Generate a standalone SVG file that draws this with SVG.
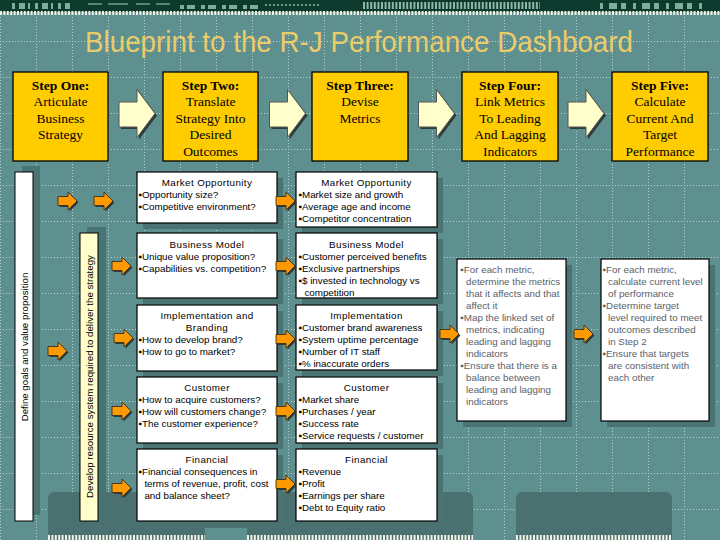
<svg xmlns="http://www.w3.org/2000/svg" xmlns:xlink="http://www.w3.org/1999/xlink" width="720" height="540" viewBox="0 0 720 540">
<defs>
<style>
.bx{fill:#ffffff;stroke:#000;stroke-width:1.2}
.sb{fill:#ffcc00;stroke:#000;stroke-width:1.3}
.sh{fill:#4a7373}
.t{font-family:'Liberation Sans',Arial,sans-serif;font-size:9.8px;fill:#000}
.tt{text-anchor:middle;letter-spacing:0.4px}
.g{fill:#59616a}
.st{font-family:'Liberation Serif','Times New Roman',serif;font-size:13.5px;text-anchor:middle;fill:#000}
.stb{font-weight:bold}
.vt{font-family:'Liberation Sans',Arial,sans-serif;font-size:9.7px;text-anchor:middle;fill:#000}
.gl{stroke:#b4d4d4;stroke-width:1;stroke-dasharray:1 2;fill:none}
</style>
<pattern id="grid" x="36" y="41" width="36" height="36" patternUnits="userSpaceOnUse">
<line class="gl" x1="0.5" y1="0" x2="0.5" y2="36"/>
<line class="gl" x1="0" y1="0.5" x2="36" y2="0.5"/>
</pattern>
<path id="ba" d="M0,12.5 H18 V0 L36,24 L18,48 V37.5 H0 Z"/>
<path id="oa" d="M0,4.5 H10 V0 L19,9 L10,18 V13.5 H0 Z"/>
</defs>

<!-- background -->
<rect x="0" y="0" width="720" height="540" fill="#5e9090"/>
<rect x="0" y="15" width="720" height="525" fill="url(#grid)"/>

<!-- top banner -->
<g id="banner">
<rect x="0" y="0" width="720" height="12" fill="#0d3a2d"/>
<line x1="12" y1="6" x2="70" y2="6" stroke="#7fae98" stroke-width="6" stroke-dasharray="3 4 6 3 2 5"/>
<line x1="88" y1="4" x2="170" y2="4" stroke="#6f9e88" stroke-width="1.5" stroke-dasharray="14 6 20 8"/>
<line x1="180" y1="7" x2="260" y2="7" stroke="#7fae98" stroke-width="4" stroke-dasharray="4 3 8 6"/>
<line x1="265" y1="5" x2="320" y2="5" stroke="#6f9e88" stroke-width="2" stroke-dasharray="2 2"/>
<line x1="363" y1="5.5" x2="540" y2="5.5" stroke="#8fb8a8" stroke-width="7" stroke-dasharray="2 1.6"/>
<line x1="600" y1="6" x2="705" y2="6" stroke="#7fae98" stroke-width="6" stroke-dasharray="3 6 8 4 5 7"/>
<line x1="0" y1="13" x2="720" y2="13" stroke="#f2f2e4" stroke-width="4" stroke-dasharray="2 1.4"/>
</g>

<!-- bottom decoration -->
<g id="bottom">
<rect x="48" y="492" width="425" height="60" rx="6" fill="#4a7070"/>
<rect x="516" y="492" width="156" height="60" rx="6" fill="#4a7070"/>
<rect x="205" y="528" width="42" height="12" fill="#5e9090"/>
<line x1="48" y1="537.5" x2="205" y2="537.5" stroke="#f2f2e4" stroke-width="5" stroke-dasharray="2 1.4"/>
<line x1="247" y1="537.5" x2="473" y2="537.5" stroke="#f2f2e4" stroke-width="5" stroke-dasharray="2 1.4"/>
<line x1="516" y1="537.5" x2="672" y2="537.5" stroke="#f2f2e4" stroke-width="5" stroke-dasharray="2 1.4"/>
</g>

<!-- title -->
<text x="359" y="52" font-family="'Liberation Sans',Arial,sans-serif" font-size="30" fill="#eccb6a" text-anchor="middle" textLength="548" lengthAdjust="spacingAndGlyphs">Blueprint to the R-J Performance Dashboard</text>

<!-- step boxes -->
<g id="step1">
<rect class="sb" x="13" y="72" width="95" height="89"/>
<text class="st stb" x="60.5" y="89.5">Step One:</text>
<text class="st" x="60.5" y="106">Articulate</text>
<text class="st" x="60.5" y="122.5">Business</text>
<text class="st" x="60.5" y="139">Strategy</text>
</g>
<g id="step2">
<rect class="sb" x="163" y="72" width="95" height="89"/>
<text class="st stb" x="210.5" y="89.5">Step Two:</text>
<text class="st" x="210.5" y="106">Translate</text>
<text class="st" x="210.5" y="122.5">Strategy Into</text>
<text class="st" x="210.5" y="139">Desired</text>
<text class="st" x="210.5" y="155.5">Outcomes</text>
</g>
<g id="step3">
<rect class="sb" x="312" y="72" width="96" height="89"/>
<text class="st stb" x="360" y="89.5">Step Three:</text>
<text class="st" x="360" y="106">Devise</text>
<text class="st" x="360" y="122.5">Metrics</text>
</g>
<g id="step4">
<rect class="sb" x="462" y="72" width="96" height="89"/>
<text class="st stb" x="510" y="89.5">Step Four:</text>
<text class="st" x="510" y="106">Link Metrics</text>
<text class="st" x="510" y="122.5">To Leading</text>
<text class="st" x="510" y="139">And Lagging</text>
<text class="st" x="510" y="155.5">Indicators</text>
</g>
<g id="step5">
<rect class="sb" x="612" y="72" width="96" height="89"/>
<text class="st stb" x="660" y="89.5">Step Five:</text>
<text class="st" x="660" y="106">Calculate</text>
<text class="st" x="660" y="122.5">Current And</text>
<text class="st" x="660" y="139">Target</text>
<text class="st" x="660" y="155.5">Performance</text>
</g>

<!-- vertical bars -->
<g id="goals">
<rect class="sh" x="22" y="166" width="18" height="349"/>
<rect x="15" y="172" width="18" height="349" fill="#ffffff" stroke="#000" stroke-width="1"/>
<text class="vt" transform="translate(28.3,347) rotate(-90)">Define goals and value proposition</text>
</g>
<g id="resources">
<rect class="sh" x="87" y="227" width="19" height="265"/>
<rect x="80" y="233" width="18" height="288" fill="#ffffcc" stroke="#000" stroke-width="1"/>
<text class="vt" transform="translate(92.8,376.5) rotate(-90)">Develop resource system required to deliver the strategy</text>
</g>

<!-- column 2 -->
<g id="c2-market">
<rect class="sh" x="143" y="178" width="140" height="51"/>
<rect class="bx" x="137" y="172" width="140" height="51"/>
<text class="t tt" x="207" y="186">Market Opportunity</text>
<text class="t" x="138.5" y="198">▪Opportunity size?</text>
<text class="t" x="138.5" y="210">▪Competitive environment?</text>
</g>
<g id="c2-business">
<rect class="sh" x="143" y="239" width="140" height="65"/>
<rect class="bx" x="137" y="233" width="140" height="65"/>
<text class="t tt" x="207" y="247.5">Business Model</text>
<text class="t" x="138.5" y="259.5">▪Unique value proposition?</text>
<text class="t" x="138.5" y="271.5">▪Capabilities vs. competition?</text>
</g>
<g id="c2-implementation">
<rect class="sh" x="143" y="311" width="140" height="66"/>
<rect class="bx" x="137" y="305" width="140" height="66"/>
<text class="t tt" x="207" y="319">Implementation and</text>
<text class="t tt" x="207" y="331">Branding</text>
<text class="t" x="138.5" y="343">▪How to develop brand?</text>
<text class="t" x="138.5" y="355">▪How to go to market?</text>
</g>
<g id="c2-customer">
<rect class="sh" x="143" y="383" width="140" height="66"/>
<rect class="bx" x="137" y="377" width="140" height="66"/>
<text class="t tt" x="207" y="391">Customer</text>
<text class="t" x="138.5" y="403">▪How to acquire customers?</text>
<text class="t" x="138.5" y="415">▪How will customers change?</text>
<text class="t" x="138.5" y="427">▪The customer experience?</text>
</g>
<g id="c2-financial">
<rect class="sh" x="143" y="455" width="140" height="66"/>
<rect class="bx" x="137" y="449" width="140" height="72"/>
<text class="t tt" x="207" y="463">Financial</text>
<text class="t" x="138.5" y="475">▪Financial consequences in</text>
<text class="t" x="144.4" y="487">terms of revenue, profit, cost</text>
<text class="t" x="144.4" y="499">and balance sheet?</text>
</g>

<!-- column 3 -->
<g id="c3-market">
<rect class="sh" x="302" y="178" width="141" height="55"/>
<rect class="bx" x="296" y="172" width="141" height="55"/>
<text class="t tt" x="366.5" y="186">Market Opportunity</text>
<text class="t" x="298.5" y="198">▪Market size and growth</text>
<text class="t" x="298.5" y="210">▪Average age and income</text>
<text class="t" x="298.5" y="222">▪Competitor concentration</text>
</g>
<g id="c3-business">
<rect class="sh" x="302" y="239" width="141" height="65"/>
<rect class="bx" x="296" y="233" width="141" height="65"/>
<text class="t tt" x="366.5" y="247.5">Business Model</text>
<text class="t" x="298.5" y="259.5">▪Customer perceived benefits</text>
<text class="t" x="298.5" y="271.5">▪Exclusive partnerships</text>
<text class="t" x="298.5" y="283.5">▪$ invested in technology vs</text>
<text class="t" x="304.4" y="295.5">competition</text>
</g>
<g id="c3-implementation">
<rect class="sh" x="302" y="311" width="141" height="65"/>
<rect class="bx" x="296" y="305" width="141" height="65"/>
<text class="t tt" x="366.5" y="319">Implementation</text>
<text class="t" x="298.5" y="331">▪Customer brand awareness</text>
<text class="t" x="298.5" y="343">▪System uptime percentage</text>
<text class="t" x="298.5" y="355">▪Number of IT staff</text>
<text class="t" x="298.5" y="367">▪% inaccurate orders</text>
</g>
<g id="c3-customer">
<rect class="sh" x="302" y="383" width="141" height="66"/>
<rect class="bx" x="296" y="377" width="141" height="66"/>
<text class="t tt" x="366.5" y="391">Customer</text>
<text class="t" x="298.5" y="403">▪Market share</text>
<text class="t" x="298.5" y="415">▪Purchases /  year</text>
<text class="t" x="298.5" y="427">▪Success rate</text>
<text class="t" x="298.5" y="439">▪Service requests / customer</text>
</g>
<g id="c3-financial">
<rect class="sh" x="302" y="455" width="141" height="66"/>
<rect class="bx" x="296" y="449" width="141" height="72"/>
<text class="t tt" x="366.5" y="463">Financial</text>
<text class="t" x="298.5" y="475">▪Revenue</text>
<text class="t" x="298.5" y="487">▪Profit</text>
<text class="t" x="298.5" y="499">▪Earnings per share</text>
<text class="t" x="298.5" y="511">▪Debt to Equity ratio</text>
</g>

<!-- column 4 -->
<g id="c4-link">
<rect class="sh" x="463" y="265" width="109" height="162"/>
<rect class="bx" x="457" y="259" width="109" height="162"/>
<text class="t g" x="460.3" y="273">▪For each metric,</text>
<text class="t g" x="466" y="285">determine the metrics</text>
<text class="t g" x="466" y="297">that it affects and that</text>
<text class="t g" x="466" y="309">affect it</text>
<text class="t g" x="460.3" y="321">▪Map the linked set of</text>
<text class="t g" x="466" y="333">metrics, indicating</text>
<text class="t g" x="466" y="345">leading and lagging</text>
<text class="t g" x="466" y="357">indicators</text>
<text class="t g" x="460.3" y="369">▪Ensure that there is a</text>
<text class="t g" x="466" y="381">balance between</text>
<text class="t g" x="466" y="393">leading and lagging</text>
<text class="t g" x="466" y="405">indicators</text>
</g>

<!-- column 5 -->
<g id="c5-calc">
<rect class="sh" x="607" y="265" width="108" height="162"/>
<rect class="bx" x="601" y="259" width="108" height="162"/>
<text class="t g" x="602.6" y="273">▪For each metric,</text>
<text class="t g" x="608" y="285">calculate current level</text>
<text class="t g" x="608" y="297">of performance</text>
<text class="t g" x="602.6" y="309">▪Determine target</text>
<text class="t g" x="608" y="321">level required to meet</text>
<text class="t g" x="608" y="333">outcomes described</text>
<text class="t g" x="608" y="345">in Step 2</text>
<text class="t g" x="602.6" y="357">▪Ensure that targets</text>
<text class="t g" x="608" y="369">are consistent with</text>
<text class="t g" x="608" y="381">each other</text>
</g>

<!-- connectors -->
<g id="connectors">
<g fill="#2c3c3c">
<use xlink:href="#ba" href="#ba" transform="translate(121,91.5)"/>
<use xlink:href="#ba" href="#ba" transform="translate(271.5,91.5)"/>
<use xlink:href="#ba" href="#ba" transform="translate(420.5,91.5)"/>
<use xlink:href="#ba" href="#ba" transform="translate(570,91.5)"/>
</g>
<g fill="#ffffcc" stroke="#555" stroke-width="1">
<use xlink:href="#ba" href="#ba" transform="translate(119,89.5)"/>
<use xlink:href="#ba" href="#ba" transform="translate(269.5,89.5)"/>
<use xlink:href="#ba" href="#ba" transform="translate(418.5,89.5)"/>
<use xlink:href="#ba" href="#ba" transform="translate(568,89.5)"/>
</g>
<g fill="#2c3c3c">
<use xlink:href="#oa" href="#oa" transform="translate(59.5,193.5)"/>
<use xlink:href="#oa" href="#oa" transform="translate(95.5,193.5)"/>
<use xlink:href="#oa" href="#oa" transform="translate(113.5,258.5)"/>
<use xlink:href="#oa" href="#oa" transform="translate(49.5,343.5)"/>
<use xlink:href="#oa" href="#oa" transform="translate(115.5,330.5)"/>
<use xlink:href="#oa" href="#oa" transform="translate(113.5,403.5)"/>
<use xlink:href="#oa" href="#oa" transform="translate(113.5,480.5)"/>
<use xlink:href="#oa" href="#oa" transform="translate(277.5,193.5)"/>
<use xlink:href="#oa" href="#oa" transform="translate(277.5,258.5)"/>
<use xlink:href="#oa" href="#oa" transform="translate(277.5,331.5)"/>
<use xlink:href="#oa" href="#oa" transform="translate(277.5,403.5)"/>
<use xlink:href="#oa" href="#oa" transform="translate(277.5,476.5)"/>
<use xlink:href="#oa" href="#oa" transform="translate(441.5,326.5)"/>
<use xlink:href="#oa" href="#oa" transform="translate(575.5,326.5)"/>
</g>
<g fill="#ff9900" stroke="#3a3020" stroke-width="0.9">
<use xlink:href="#oa" href="#oa" transform="translate(58,192)"/>
<use xlink:href="#oa" href="#oa" transform="translate(94,192)"/>
<use xlink:href="#oa" href="#oa" transform="translate(112,257)"/>
<use xlink:href="#oa" href="#oa" transform="translate(48,342)"/>
<use xlink:href="#oa" href="#oa" transform="translate(114,329)"/>
<use xlink:href="#oa" href="#oa" transform="translate(112,402)"/>
<use xlink:href="#oa" href="#oa" transform="translate(112,479)"/>
<use xlink:href="#oa" href="#oa" transform="translate(276,192)"/>
<use xlink:href="#oa" href="#oa" transform="translate(276,257)"/>
<use xlink:href="#oa" href="#oa" transform="translate(276,330)"/>
<use xlink:href="#oa" href="#oa" transform="translate(276,402)"/>
<use xlink:href="#oa" href="#oa" transform="translate(276,475)"/>
<use xlink:href="#oa" href="#oa" transform="translate(440,325)"/>
<use xlink:href="#oa" href="#oa" transform="translate(574,325)"/>
</g>
</g>
</svg>
